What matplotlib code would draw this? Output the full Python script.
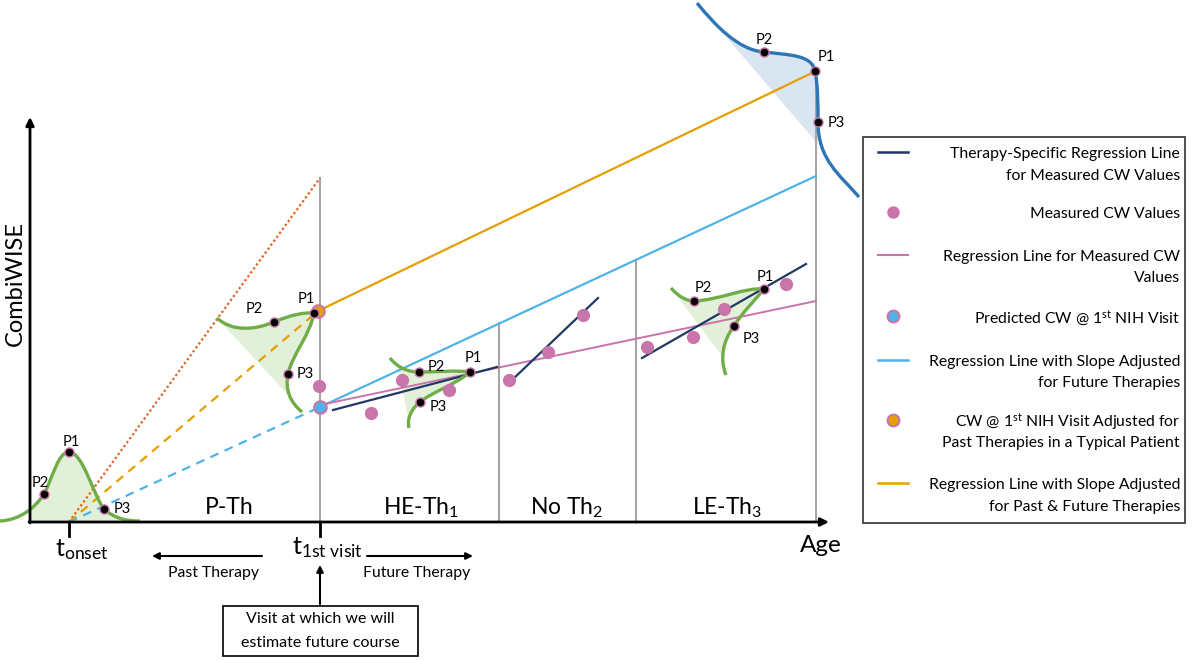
import matplotlib
matplotlib.use('Agg')
import matplotlib.pyplot as plt
from matplotlib.path import Path
from matplotlib.patches import PathPatch, Rectangle

plt.rcParams['font.family'] = ['Lato', 'DejaVu Sans']
plt.rcParams['mathtext.fontset'] = 'custom'
plt.rcParams['mathtext.rm'] = 'Lato'
plt.rcParams['mathtext.it'] = 'Lato:italic'
plt.rcParams['mathtext.bf'] = 'Lato:bold'

GREEN = '#70AD47'
GREEN_FILL = '#E2F0D9'
NAVY = '#1F3864'
PINK = '#C974AA'
LBLUE = '#4FB3E8'
ORANGE = '#E69F00'
DOTTED = '#E0601C'
BLUE = '#2E75B6'
BLUE_FILL = '#DAE5F2'
GRAY = '#A6A6A6'

# --- schematic data (picture units, y grows downward) ---
onset_x = 69
visit_x = 320
dividers_x = [320, 499, 636, 816]
dividers_top = [178, 323, 260, 71]
region_labels = ['P-Th', 'HE-Th$_1$', 'No Th$_2$', 'LE-Th$_3$']
region_x = [229, 421, 567, 727]

measured_x = [319, 371, 402, 449, 509, 548, 583, 647, 693, 724, 786]
measured_y = [386, 413, 380, 390, 380, 352, 315, 347, 337, 309, 284]

therapy_x = [[333, 497], [512, 598], [642, 806]]
therapy_y = [[410, 367], [380, 298], [358, 264]]

pink_x, pink_y = [320, 816], [405, 301]
blue_dash_x, blue_dash_y = [69, 320], [522, 407]
blue_x, blue_y = [320, 816], [407, 176]
orange_dash_x, orange_dash_y = [69, 318], [522, 311]
orange_x, orange_y = [318, 816], [311, 71]
dotted_x, dotted_y = [69, 320], [522, 178]

predicted_pt = (320, 407)
adjusted_pt = (318, 311)

# distribution curves: move-to point followed by cubic bezier triples
curve_onset = [(0, 521), (20, 520), (35, 508), (44, 494), (53, 477), (58, 452), (69, 452),
               (83, 452), (94, 497), (104, 509), (114, 518), (125, 521), (140, 521)]
curve_pth = [(217, 318), (232, 332), (255, 330), (274, 322), (290, 315), (305, 312), (314, 313),
             (310, 335), (292, 355), (288, 374), (285, 390), (290, 402), (302, 412)]
fill_pth = [(217, 318), (232, 332), (255, 330), (274, 322), (290, 315), (305, 312), (314, 313),
            (310, 335), (292, 355), (288, 374), (286, 384), (287, 390), (290, 397)]
curve_he = [(390, 358), (398, 368), (408, 372), (419, 372), (440, 372), (455, 370), (470, 372),
            (455, 385), (432, 392), (420, 402), (410, 410), (407, 420), (409, 428)]
fill_he = [(398, 367), (404, 370), (411, 372), (419, 372), (440, 372), (455, 370), (470, 372),
           (455, 385), (432, 392), (420, 402), (413, 407), (410, 412), (408, 418)]
curve_le = [(671, 288), (678, 296), (686, 301), (694, 301), (720, 300), (745, 287), (764, 289),
            (755, 300), (742, 313), (734, 326), (722, 342), (720, 360), (726, 375)]
fill_le = [(677, 296), (683, 300), (688, 301), (694, 301), (720, 300), (745, 287), (764, 289),
           (755, 300), (742, 313), (734, 326), (727, 336), (723, 345), (721, 355)]
curve_top = [(697, 3), (715, 25), (738, 50), (764, 52), (790, 55), (812, 55), (815, 71),
             (818, 85), (818, 105), (818, 122), (818, 160), (840, 175), (859, 197)]
fill_top = [(722, 32), (738, 47), (750, 52), (764, 52), (790, 55), (812, 55), (815, 71),
            (818, 85), (818, 105), (818, 122), (818, 130), (818, 137), (817, 143)]

p_points = [(69, 452), (44, 494), (104, 509),
            (314, 313), (274, 322), (288, 374),
            (470, 372), (419, 372), (420, 402),
            (764, 289), (694, 301), (734, 326),
            (815, 71), (764, 52), (818, 122)]
p_names = ['P1', 'P2', 'P3'] * 5
p_label_pos = [(71, 442), (40, 483), (122, 509),
               (306, 299), (254, 309), (305, 374),
               (473, 358), (436, 367), (438, 407),
               (765, 277), (703, 288), (751, 339),
               (826, 57), (764, 40), (836, 123)]

legend_kinds = ['navy', 'dot', 'pink', 'pred', 'lblue', 'adj', 'orange']
legend_y = [152, 212, 255, 316, 360, 420, 483]
legend_text = [
    ['Therapy-Specific Regression Line', 'for Measured CW Values'],
    ['Measured CW Values'],
    ['Regression Line for Measured CW', 'Values'],
    ['Predicted CW @ 1$^{\\mathrm{st}}$ NIH Visit'],
    ['Regression Line with Slope Adjusted', 'for Future Therapies'],
    ['CW @ 1$^{\\mathrm{st}}$ NIH Visit Adjusted for', 'Past Therapies in a Typical Patient'],
    ['Regression Line with Slope Adjusted', 'for Past & Future Therapies'],
]


def bez(pts, close=False):
    codes = [Path.MOVETO] + [Path.CURVE4] * (len(pts) - 1)
    verts = list(pts)
    if close:
        verts.append(pts[0])
        codes.append(Path.CLOSEPOLY)
    return Path(verts, codes)


fig = plt.figure(figsize=(11.92, 6.60), dpi=100)
ax = fig.add_axes([0, 0, 1, 1])
ax.set_xlim(0, 1192)
ax.set_ylim(660, 0)
ax.axis('off')

# fills first
clip = Rectangle((30, 0), 1200, 522, transform=ax.transData)
pa = PathPatch(bez(curve_onset, close=True), facecolor=GREEN_FILL, edgecolor='none', zorder=1)
ax.add_patch(pa)
pa.set_clip_path(clip)
for f in [fill_pth, fill_he, fill_le]:
    ax.add_patch(PathPatch(bez(f, close=True), facecolor=GREEN_FILL, edgecolor='none', zorder=1))
ax.add_patch(PathPatch(bez(fill_top, close=True), facecolor=BLUE_FILL, edgecolor='none', zorder=1))

# region dividers
for x, top in zip(dividers_x, dividers_top):
    ax.plot([x, x], [522, top], color=GRAY, lw=1.5, zorder=2)

# trend lines
ax.plot(dotted_x, dotted_y, color=DOTTED, lw=1.6, ls=(0, (1, 1.2)), zorder=3)
ax.plot(orange_dash_x, orange_dash_y, color=ORANGE, lw=1.6, ls=(0, (4, 3)), zorder=3)
ax.plot(blue_dash_x, blue_dash_y, color=LBLUE, lw=1.6, ls=(0, (4, 3)), zorder=3)
ax.plot(orange_x, orange_y, color=ORANGE, lw=1.6, zorder=3)
ax.plot(blue_x, blue_y, color=LBLUE, lw=1.6, zorder=3)
ax.plot(pink_x, pink_y, color=PINK, lw=1.4, zorder=3)
for xs, ys in zip(therapy_x, therapy_y):
    ax.plot(xs, ys, color=NAVY, lw=1.6, zorder=4)

# curves
for c in [curve_onset, curve_pth, curve_he, curve_le]:
    ax.add_patch(PathPatch(bez(c), facecolor='none', edgecolor=GREEN, lw=2.4, zorder=5))
ax.add_patch(PathPatch(bez(curve_top), facecolor='none', edgecolor=BLUE, lw=2.4, zorder=5))

# measured points
ax.plot(measured_x, measured_y, 'o', color=PINK, ms=9.5, mec='none', zorder=6)
ax.plot(*predicted_pt, 'o', mfc=LBLUE, mec=PINK, mew=1.5, ms=9, zorder=7)
ax.plot(*adjusted_pt, 'o', mfc=ORANGE, mec=PINK, mew=1.5, ms=9, zorder=7)

# P points
for (x, y), name, (lx, ly) in zip(p_points, p_names, p_label_pos):
    ax.plot(x, y, 'o', mfc='black', mec=PINK, mew=1, ms=6.5, zorder=8)
    ax.text(lx, ly, name, fontsize=10.5, ha='center', va='center', zorder=9)

# axes
arrow = dict(arrowstyle='-|>', lw=2, color='black', mutation_scale=12, shrinkA=0, shrinkB=0)
ax.annotate('', xy=(30, 117), xytext=(30, 523), arrowprops=arrow, zorder=10)
ax.annotate('', xy=(829, 522), xytext=(29, 522), arrowprops=arrow, zorder=10)
for x in [onset_x, visit_x]:
    ax.plot([x, x], [522, 536], color='black', lw=2, zorder=10)

ax.text(15, 284, 'CombiWISE', rotation=90, fontsize=17, ha='center', va='center')
ax.text(821, 546, 'Age', fontsize=17.5, ha='center', va='center')
ax.text(82, 550, 't$_{\\mathrm{onset}}$', fontsize=18, ha='center', va='center')
ax.text(327, 548, 't$_{\\mathrm{1st\\ visit}}$', fontsize=18, ha='center', va='center')
for lab, x in zip(region_labels, region_x):
    ax.text(x, 508, lab, fontsize=16.5, ha='center', va='center')

small = dict(arrowstyle='-|>', lw=1.5, color='black', mutation_scale=10, shrinkA=0, shrinkB=0)
ax.annotate('', xy=(152, 556), xytext=(262, 556), arrowprops=small)
ax.annotate('', xy=(473, 556), xytext=(367, 556), arrowprops=small)
ax.annotate('', xy=(320, 565), xytext=(320, 604), arrowprops=small)
ax.text(213, 573, 'Past Therapy', fontsize=11.3, ha='center', va='center')
ax.text(417, 573, 'Future Therapy', fontsize=11.3, ha='center', va='center')

ax.add_patch(Rectangle((223, 606), 195, 50, facecolor='white', edgecolor='black', lw=1.2))
ax.text(320, 619, 'Visit at which we will', fontsize=11.5, ha='center', va='center')
ax.text(320, 643, 'estimate future course', fontsize=11.5, ha='center', va='center')

# legend box
ax.add_patch(Rectangle((863, 137), 322, 386, facecolor='white', edgecolor='#404040', lw=1.3, zorder=10))
for kind, y, lines in zip(legend_kinds, legend_y, legend_text):
    if kind == 'navy':
        ax.plot([878, 908], [y, y], color=NAVY, lw=1.8, zorder=11)
    elif kind == 'pink':
        ax.plot([878, 908], [y, y], color=PINK, lw=1.5, zorder=11)
    elif kind == 'lblue':
        ax.plot([878, 908], [y, y], color=LBLUE, lw=1.8, zorder=11)
    elif kind == 'orange':
        ax.plot([878, 908], [y, y], color=ORANGE, lw=1.8, zorder=11)
    elif kind == 'dot':
        ax.plot(893, y, 'o', color=PINK, ms=9, mec='none', zorder=11)
    elif kind == 'pred':
        ax.plot(893, y, 'o', mfc=LBLUE, mec=PINK, mew=1.5, ms=8.5, zorder=11)
    elif kind == 'adj':
        ax.plot(893, y, 'o', mfc=ORANGE, mec=PINK, mew=1.5, ms=8.5, zorder=11)
    for i, line in enumerate(lines):
        ax.text(1180, y + 2 + 21.5 * i, line, fontsize=11.3, ha='right', va='center', zorder=11)

fig.savefig('out.png', dpi=100)
